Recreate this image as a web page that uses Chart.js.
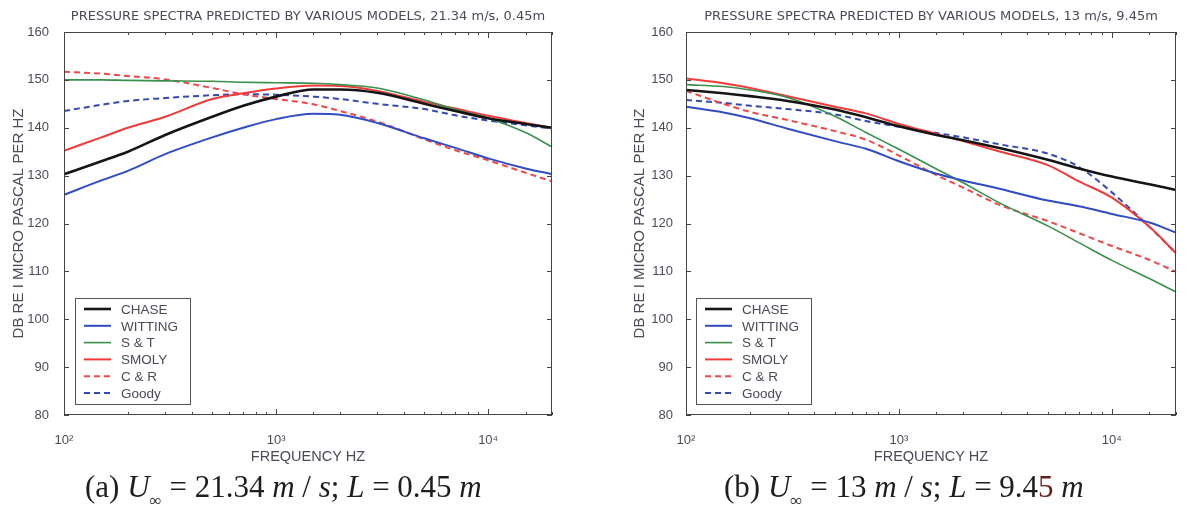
<!DOCTYPE html>
<html>
<head>
<meta charset="utf-8">
<script src="https://cdn.jsdelivr.net/npm/chart.js@4.4.1/dist/chart.umd.min.js"></script>
<style>
body{margin:0;background:#fff;width:1191px;height:507px;overflow:hidden;position:relative;font-family:"Liberation Sans",Arial,sans-serif}
canvas{position:absolute;top:0}
.cap{position:absolute;top:469px;line-height:30px;font:31px "Liberation Serif","Times New Roman",serif;color:#1e1e1e;white-space:nowrap}
.cap sub{font-size:17px;vertical-align:-9px}
</style>
</head>
<body>
<canvas id="ca" width="570" height="470" style="left:0"></canvas>
<canvas id="cb" width="591" height="470" style="left:600px"></canvas>
<div class="cap" style="left:85px">(a) <i>U</i><sub>∞</sub> = 21.34 <i>m</i> / <i>s</i>; <i>L</i> = 0.45 <i>m</i></div>
<div class="cap" style="left:724px">(b) <i>U</i><sub>∞</sub> = 13 <i>m</i> / <i>s</i>; <i>L</i> = 9.4<span style="color:#6a1c1c">5</span> <i>m</i></div>
<script>
// frequencies (Hz) shared by every curve
const freqs = [100, 150, 200, 300, 500, 700, 1000, 1500, 2000, 3000, 5000, 7000, 10000, 15000, 20000]
const models = ['CHASE', 'WITTING', 'S & T', 'SMOLY', 'C & R', 'Goody']

// (a) 21.34 m/s, 0.45 m
const chaseA   = [130.3, 133, 135, 138.5, 142.3, 144.6, 146.5, 148, 148, 147.3, 145, 143.5, 142, 140.8, 140]
const wittingA = [126, 129, 131, 134.5, 138, 140, 141.8, 142.9, 142.7, 141, 137.8, 135.8, 133.6, 131.5, 130.3]
const stA      = [150, 150, 149.9, 149.8, 149.7, 149.5, 149.4, 149.3, 149, 148.3, 145.8, 143.8, 142, 139, 136]
const smolyA   = [135.2, 138, 140, 142.3, 146, 147.2, 148.2, 148.8, 148.7, 147.7, 145.4, 144, 142.5, 141, 140]
const crA      = [151.7, 151.3, 150.8, 150.1, 148.3, 147, 146, 144.9, 143.5, 141.3, 137.6, 135.3, 133.2, 130.6, 128.8]
const goodyA   = [143.5, 144.8, 145.6, 146.2, 146.8, 147, 146.9, 146.5, 146, 145, 143.9, 142.6, 141.5, 140.5, 139.8]

// (b) 13 m/s, 9.45 m
const chaseB   = [147.9, 147.2, 146.6, 145.6, 143.8, 142.2, 140.3, 138.5, 137.4, 135.7, 133.3, 131.5, 129.8, 128.2, 127]
const wittingB = [144.4, 143.2, 142, 139.8, 137.2, 135.6, 133, 130.4, 129, 127.2, 124.8, 123.6, 122, 120.2, 118.1]
const stB      = [149, 148.6, 147.9, 146.3, 142.4, 139, 135.5, 131.4, 128.5, 124.2, 119.5, 116, 112.3, 108.5, 105.7]
const smolyB   = [150.3, 149.3, 148.3, 146.6, 144.4, 143, 140.8, 138.7, 137.2, 135, 132.2, 128.8, 125.4, 119.3, 113.8]
const crB      = [147.7, 145, 143.3, 141.6, 139.3, 137.5, 134.2, 130.1, 127.5, 123.8, 120.5, 118, 115.3, 112.4, 109.9]
const goodyB   = [145.8, 145.2, 144.6, 143.9, 142.8, 141.4, 140.2, 138.9, 138, 136.5, 134.6, 131.8, 126.5, 119.3, 113.8]

const yTicks = [80, 90, 100, 110, 120, 130, 140, 150, 160]
const xLabels = {100: '10²', 1000: '10³', 10000: '10⁴'}

const styles = [
    {color: '#151515', width: 2.6, dash: []},
    {color: '#2f4cc4', width: 2, dash: []},
    {color: '#3a8f4c', width: 1.6, dash: []},
    {color: '#f23a3a', width: 2, dash: []},
    {color: '#f04848', width: 2, dash: [6, 4]},
    {color: '#3449b4', width: 2, dash: [6, 4]}
]

const txt = '#4a4a58'
const font = '"Liberation Sans", Arial, sans-serif'

// inward ticks, box frame and the legend inside the plot
const frame = {
    id: 'frame',
    afterDatasetsDraw(chart) {
        const {ctx, chartArea: a, scales: {x, y}} = chart
        const seg = (x1, y1, x2, y2) => { ctx.beginPath(); ctx.moveTo(x1, y1); ctx.lineTo(x2, y2); ctx.stroke() }
        ctx.save()
        ctx.strokeStyle = '#444'
        ctx.lineWidth = 1
        ctx.strokeRect(a.left + 0.5, a.top + 0.5, a.width - 1, a.height - 1)
        x.ticks.forEach(t => {
            const px = Math.round(x.getPixelForValue(t.value)) + 0.5
            const len = xLabels[t.value] ? 6 : 3
            seg(px, a.bottom, px, a.bottom - len)
            seg(px, a.top, px, a.top + len)
        })
        y.ticks.forEach(t => {
            const py = Math.round(y.getPixelForValue(t.value)) + 0.5
            seg(a.left, py, a.left + 5, py)
            seg(a.right, py, a.right - 5, py)
        })
        // legend
        const lx = a.left + chart.options.plugins.frame.dx
        const ly = a.bottom - 117
        ctx.fillStyle = '#fff'
        ctx.fillRect(lx, ly, 115, 106)
        ctx.strokeStyle = '#555'
        ctx.strokeRect(lx + 0.5, ly + 0.5, 115, 106)
        ctx.font = '13.5px ' + font
        ctx.textBaseline = 'middle'
        chart.data.datasets.forEach((ds, i) => {
            const ry = ly + 11 + i * 16.8
            ctx.strokeStyle = ds.borderColor
            ctx.lineWidth = ds.borderWidth
            ctx.setLineDash(ds.borderDash)
            seg(lx + 9, ry, lx + 36, ry)
            ctx.setLineDash([])
            ctx.fillStyle = txt
            ctx.fillText(ds.label, lx + 46, ry + 1)
        })
        ctx.restore()
    }
}

function build(id, title, series, yw, ytitlePad, tickPad, padRight, dx) {
    const datasets = series.map((vals, i) => ({
        label: models[i],
        data: freqs.map((f, k) => ({x: f, y: vals[k]})),
        borderColor: styles[i].color,
        borderWidth: styles[i].width,
        borderDash: styles[i].dash,
        pointRadius: 0,
        cubicInterpolationMode: 'monotone',
        fill: false
    }))
    return new Chart(document.getElementById(id), {
        type: 'line',
        data: {datasets},
        options: {
            responsive: false,
            animation: false,
            layout: {padding: {left: 0, right: padRight, top: 0, bottom: 0}},
            plugins: {
                legend: {display: false},
                tooltip: {enabled: false},
                frame: {dx},
                title: {
                    display: true,
                    text: title,
                    fullSize: false,
                    color: txt,
                    font: {family: '"DejaVu Sans", sans-serif', size: 13, weight: 'normal'},
                    padding: {top: 8.5, bottom: 7.9}
                }
            },
            scales: {
                x: {
                    type: 'logarithmic',
                    min: 100,
                    max: 20000,
                    grid: {display: false},
                    border: {display: false},
                    afterFit: s => { s.height = 55 },
                    ticks: {
                        autoSkip: false,
                        maxRotation: 0,
                        padding: 10,
                        color: txt,
                        font: {family: font, size: 13},
                        callback: v => xLabels[v] || ''
                    },
                    title: {
                        display: true,
                        text: 'FREQUENCY HZ',
                        color: txt,
                        font: {family: font, size: 14.5},
                        padding: {top: 0, bottom: 4.3}
                    }
                },
                y: {
                    min: 80,
                    max: 160,
                    grid: {display: false},
                    border: {display: false},
                    afterFit: s => { s.width = yw },
                    afterBuildTicks: s => { s.ticks = yTicks.map(v => ({value: v})) },
                    ticks: {
                        padding: tickPad,
                        color: txt,
                        font: {family: font, size: 13}
                    },
                    title: {
                        display: true,
                        text: 'DB RE I MICRO PASCAL PER HZ',
                        color: txt,
                        font: {family: font, size: 15},
                        padding: {top: ytitlePad, bottom: 0}
                    }
                }
            }
        },
        plugins: [frame]
    })
}

build('ca', 'PRESSURE SPECTRA PREDICTED BY VARIOUS MODELS, 21.34 m/s, 0.45m',
    [chaseA, wittingA, stA, smolyA, crA, goodyA], 64, 10, 7, 18, 11)
build('cb', 'PRESSURE SPECTRA PREDICTED BY VARIOUS MODELS, 13 m/s, 9.45m',
    [chaseB, wittingB, stB, smolyB, crB, goodyB], 86, 31, 5, 15, 10)
</script>
</body>
</html>
